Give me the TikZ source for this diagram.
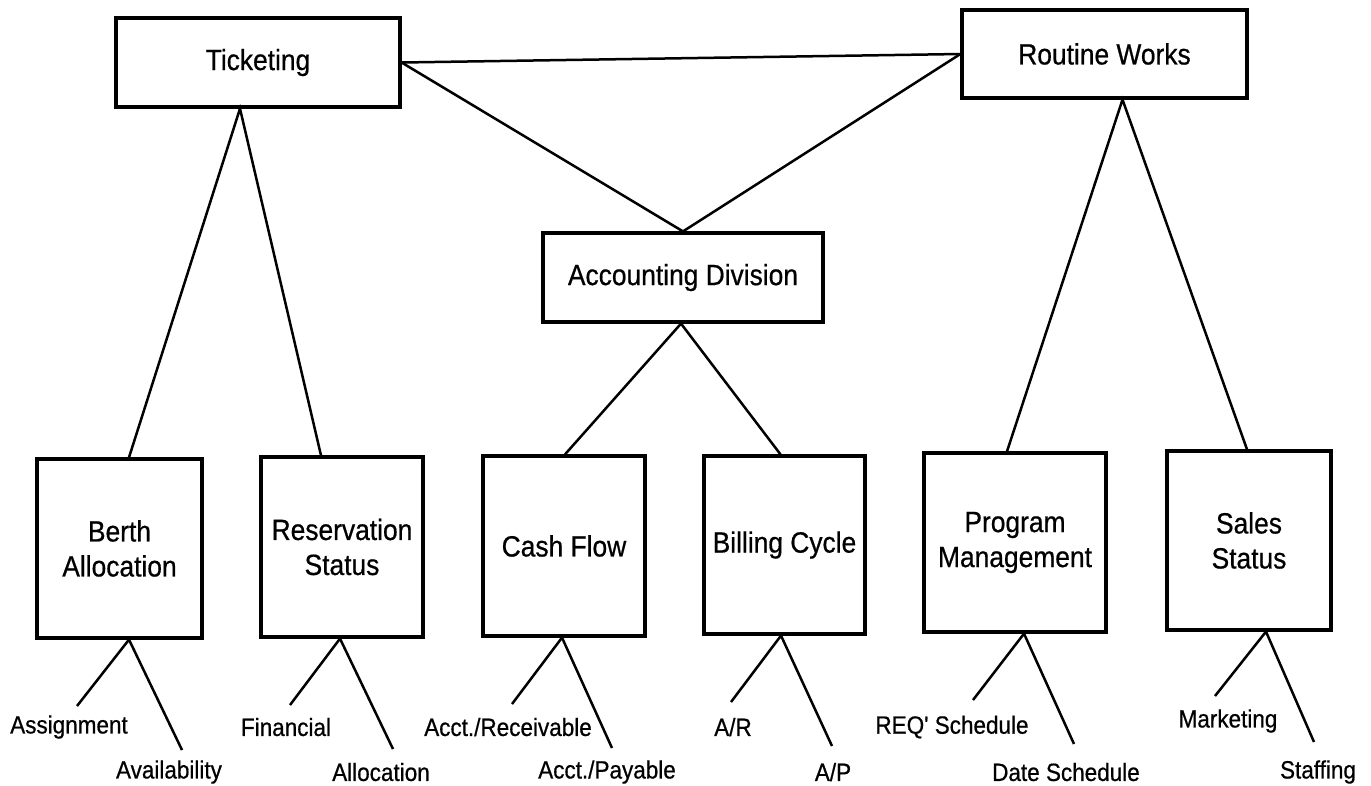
\documentclass[tikz,border=0pt]{standalone}
\usepackage{fontspec}
\setmainfont{Liberation Sans}
\newfontfamily\condfont[FakeStretch=0.9,FakeBold=0.6]{Liberation Sans}
\begin{document}
\begin{tikzpicture}[x=1pt,y=-1pt,
  box/.style={draw=black,line width=3.2pt,rectangle,inner sep=0pt,align=center,
    font=\condfont\fontsize{29.3}{35}\selectfont},
  link/.style={draw=black,line width=2.5pt},
  lbl/.style={inner sep=0pt,font=\condfont\fontsize{25}{30}\selectfont}]
\useasboundingbox (0,0) rectangle (1371,785);
\fill[white] (0,0) rectangle (1371,785);

% top level
\node[box,minimum width=284pt,minimum height=89pt] (tick) at (258,62.5) {Ticketing};
\node[box,minimum width=285pt,minimum height=88pt] (rout) at (1104.5,54) {Routine Works};
\node[box,minimum width=280pt,minimum height=89pt] (acc) at (683,277.5) {Accounting Division};

% second level
\node[box,minimum width=165pt,minimum height=179pt] (berth) at (119.5,548.5) {Berth\\Allocation};
\node[box,minimum width=162pt,minimum height=180pt] (res) at (342,547) {Reservation\\Status};
\node[box,minimum width=162pt,minimum height=180pt] (cash) at (564,546) {Cash Flow};
\node[box,minimum width=161pt,minimum height=178pt] (bill) at (784.5,545) {Billing Cycle};
\node[box,minimum width=182pt,minimum height=179pt] (prog) at (1015,542.5) {Program\\Management};
\node[box,minimum width=164pt,minimum height=179pt] (sales) at (1249,540.5) {Sales\\Status};

% top connectors
\draw[link] (tick.east) -- (rout.west);
\draw[link] (tick.east) -- (acc.north) -- (rout.west);
\draw[link] ([xshift=9.5pt]berth.north) -- ([xshift=-18pt]tick.south) -- ([xshift=-21pt]res.north);
\draw[link] ([xshift=1pt]cash.north) -- ([xshift=-2pt]acc.south) -- ([xshift=-4pt]bill.north);
\draw[link] ([xshift=-8pt]prog.north) -- ([xshift=18pt]rout.south) -- ([xshift=-2pt]sales.north);

% line ends for the labels
\coordinate (b1) at (77,706);   \coordinate (b2) at (182,750);
\coordinate (r1) at (290,705);  \coordinate (r2) at (393,749);
\coordinate (c1) at (512,704);  \coordinate (c2) at (612,748);
\coordinate (l1) at (731,702);  \coordinate (l2) at (832,746);
\coordinate (p1) at (973,700);  \coordinate (p2) at (1074,744);
\coordinate (s1) at (1215,696); \coordinate (s2) at (1314,742);

\draw[link] (b1) -- ([xshift=9.5pt]berth.south) -- (b2);
\draw[link] (r1) -- ([xshift=-2pt]res.south) -- (r2);
\draw[link] (c1) -- ([xshift=-2pt]cash.south) -- (c2);
\draw[link] (l1) -- ([xshift=-3.5pt]bill.south) -- (l2);
\draw[link] (p1) -- ([xshift=9pt]prog.south) -- (p2);
\draw[link] (s1) -- ([xshift=17pt]sales.south) -- (s2);

% labels
\node[lbl] (tA1) at (69,727) {Assignment};
\node[lbl] (tA2) at (169,772) {Availability};
\node[lbl] (tR1) at (286,727) {Financial};
\node[lbl] (tR2) at (381,772) {Allocation};
\node[lbl] (tC1) at (508,727) {Acct./Receivable};
\node[lbl] (tC2) at (607,772) {Acct./Payable};
\node[lbl] (tB1) at (733,727) {A/R};
\node[lbl] (tB2) at (833,772) {A/P};
\node[lbl] (tP1) at (952,727) {REQ' Schedule};
\node[lbl] (tP2) at (1066,772) {Date Schedule};
\node[lbl] (tS1) at (1228,721) {Marketing};
\node[lbl] (tS2) at (1318,772) {Staffing};
\end{tikzpicture}
\end{document}
